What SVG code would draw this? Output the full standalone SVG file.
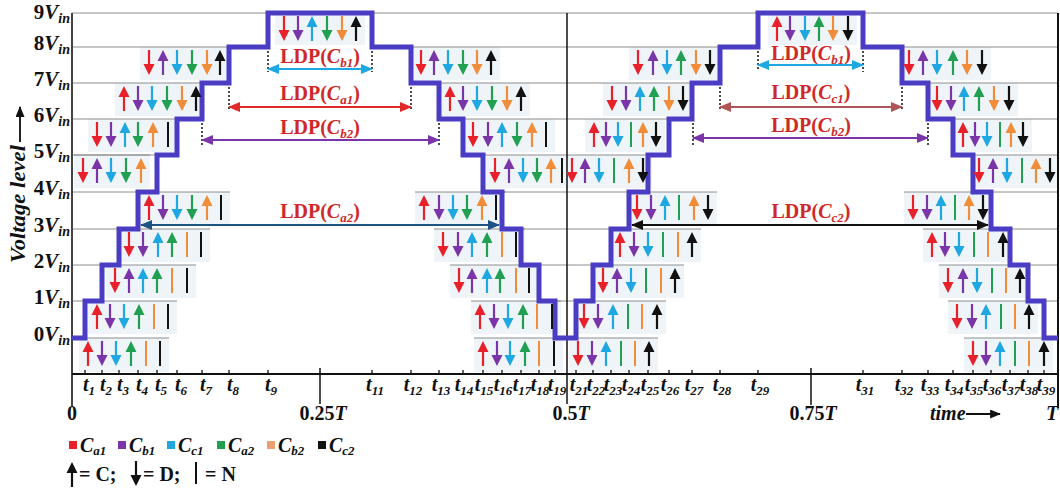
<svg xmlns="http://www.w3.org/2000/svg" xmlns:xlink="http://www.w3.org/1999/xlink" width="1060" height="490" viewBox="0 0 1060 490">
<style>
.bx{fill:#eff4f8}
.gl{fill:none;stroke:#8e8e8e;stroke-width:1}
.r{fill:#e8202a}.p{fill:#7a35a8}.c{fill:#1ea7e1}.g{fill:#20a050}.o{fill:#f08c3a}.k{fill:#111}
.stair{fill:none;stroke:#4b3cc4;stroke-width:5;stroke-linejoin:miter}
.ax{stroke:#111;fill:none}
.dot{stroke:#111;stroke-width:1.5;stroke-dasharray:2,2}
.lt{font-family:"Liberation Serif",serif;font-weight:bold;font-size:20px;fill:#d02828}
.it{font-style:italic}
.sb{font-size:13px;font-style:italic}
.yl{font-family:"Liberation Serif",serif;font-weight:bold;font-size:21px;fill:#111}
.tl{font-family:"Liberation Serif",serif;font-weight:bold;font-style:italic;font-size:20px;fill:#111}
.tsb{font-size:13px}
.bl{font-family:"Liberation Serif",serif;font-weight:bold;font-size:20px;fill:#111}
</style>
<defs>
<path id="u" d="M0,0 L5.5,11 L1.1,11 L1.1,25 L-1.1,25 L-1.1,11 L-5.5,11 Z"/>
<path id="d" d="M0,25 L5.5,14 L1.1,14 L1.1,0 L-1.1,0 L-1.1,14 L-5.5,14 Z"/>
<rect id="n" x="-1" y="0" width="2" height="25"/>
<marker id="mCy" viewBox="0 0 12 10" refX="11" refY="5" markerWidth="12" markerHeight="10" markerUnits="userSpaceOnUse" orient="auto-start-reverse"><path d="M0,0 L12,5 L0,10 Z" fill="#1ea7e1"/></marker>
<marker id="mRd" viewBox="0 0 12 10" refX="11" refY="5" markerWidth="12" markerHeight="10" markerUnits="userSpaceOnUse" orient="auto-start-reverse"><path d="M0,0 L12,5 L0,10 Z" fill="#e02a2a"/></marker>
<marker id="mBr" viewBox="0 0 12 10" refX="11" refY="5" markerWidth="12" markerHeight="10" markerUnits="userSpaceOnUse" orient="auto-start-reverse"><path d="M0,0 L12,5 L0,10 Z" fill="#b05555"/></marker>
<marker id="mPu" viewBox="0 0 12 10" refX="11" refY="5" markerWidth="12" markerHeight="10" markerUnits="userSpaceOnUse" orient="auto-start-reverse"><path d="M0,0 L12,5 L0,10 Z" fill="#7a35a8"/></marker>
<marker id="mDb" viewBox="0 0 12 10" refX="11" refY="5" markerWidth="12" markerHeight="10" markerUnits="userSpaceOnUse" orient="auto-start-reverse"><path d="M0,0 L12,5 L0,10 Z" fill="#1d5484"/></marker>
<marker id="mBk" viewBox="0 0 12 10" refX="11" refY="5" markerWidth="12" markerHeight="10" markerUnits="userSpaceOnUse" orient="auto-start-reverse"><path d="M0,0 L12,5 L0,10 Z" fill="#111"/></marker>
<marker id="mAx" viewBox="0 0 12 10" refX="11" refY="5" markerWidth="11" markerHeight="9" markerUnits="userSpaceOnUse" orient="auto"><path d="M0,0 L12,5 L0,10 Z" fill="#111"/></marker>
</defs>

<!-- group boxes -->
<g id="boxes">
<rect class="bx" x="79" y="338" width="90" height="34"/>
<rect class="bx" x="88" y="301" width="89" height="33"/>
<rect class="bx" x="106" y="265" width="90" height="33"/>
<rect class="bx" x="120" y="229" width="90" height="33"/>
<rect class="bx" x="140" y="192" width="90" height="32"/>
<rect class="bx" x="74" y="155" width="76" height="33"/>
<rect class="bx" x="88" y="119" width="89" height="33"/>
<rect class="bx" x="115" y="83" width="90" height="33"/>
<rect class="bx" x="140" y="47" width="89" height="33"/>
<rect class="bx" x="275" y="15" width="90" height="30"/>
<rect class="bx" x="412" y="47" width="88" height="33"/>
<rect class="bx" x="441" y="83" width="89" height="33"/>
<rect class="bx" x="464" y="119" width="91" height="33"/>
<rect class="bx" x="486" y="155" width="80" height="33"/>
<rect class="bx" x="415" y="192" width="85" height="32"/>
<rect class="bx" x="434" y="229" width="91" height="33"/>
<rect class="bx" x="450" y="265" width="88" height="33"/>
<rect class="bx" x="471" y="301" width="90" height="33"/>
<rect class="bx" x="474" y="338" width="89" height="34"/>
<rect class="bx" x="569" y="338" width="89" height="34"/>
<rect class="bx" x="575" y="301" width="91" height="33"/>
<rect class="bx" x="594" y="265" width="90" height="33"/>
<rect class="bx" x="611" y="229" width="90" height="33"/>
<rect class="bx" x="628" y="192" width="89" height="32"/>
<rect class="bx" x="563" y="155" width="89" height="33"/>
<rect class="bx" x="585" y="119" width="80" height="33"/>
<rect class="bx" x="603" y="83" width="89" height="33"/>
<rect class="bx" x="629" y="47" width="90" height="33"/>
<rect class="bx" x="768" y="15" width="89" height="30"/>
<rect class="bx" x="900" y="47" width="91" height="33"/>
<rect class="bx" x="928" y="83" width="90" height="33"/>
<rect class="bx" x="954" y="119" width="78" height="33"/>
<rect class="bx" x="970" y="155" width="88" height="33"/>
<rect class="bx" x="904" y="192" width="84" height="32"/>
<rect class="bx" x="923" y="229" width="89" height="33"/>
<rect class="bx" x="939" y="265" width="90" height="33"/>
<rect class="bx" x="948" y="301" width="90" height="33"/>
<rect class="bx" x="964" y="338" width="89" height="34"/>
</g>

<!-- grid lines -->
<g id="grid">
<path class="gl" d="M72,13H1058 M72,47H229 M72,83H202 M72,119H177 M72,155H157 M72,192H138 M72,229H119 M72,265H102 M72,301H85
M372,47H567 M411,83H567 M439,119H567 M463,155H567 M483,192H567 M502,229H567 M521,265H567 M539,301H567
M567,47H720 M567,83H692 M567,119H669 M567,155H648 M567,192H629 M567,229H611 M567,265H593 M567,301H576
M863,47H1058 M902,83H1058 M928,119H1058 M953,155H1058 M973,192H1058 M991,229H1058 M1010,265H1058 M1028,301H1058
M79,338H169 M88,301H177 M106,265H196 M120,229H210 M140,192H230 M74,155H150
M415,192H506 M434,229H525 M450,265H538 M471,301H561 M474,338H563
M569,338H658 M575,301H666 M594,265H684 M611,229H701 M628,192H717
M904,192H992 M923,229H1012 M939,265H1029 M948,301H1038 M964,338H1053"/>
</g>

<!-- axes -->
<g id="axes">
<line class="ax" x1="72" y1="13" x2="72" y2="406" stroke-width="2" style="stroke:#444"/>
<line class="ax" x1="72" y1="374" x2="1058" y2="374" stroke-width="2"/>
<line class="ax" x1="567" y1="13" x2="567" y2="404" stroke-width="1.5"/>
<line class="ax" x1="1058" y1="13" x2="1058" y2="408" stroke-width="2"/>
<line class="ax" x1="320" y1="368" x2="320" y2="404" stroke-width="1.5"/>
<line class="ax" x1="811" y1="368" x2="811" y2="405" stroke-width="1.5"/>
<path class="ax" stroke-width="1.3" d="M85,370V374 M102,370V374 M119,370V374 M138,370V374 M157,370V374 M177,370V374 M202,370V374 M229,370V374 M268,370V374 M372,370V374 M411,370V374 M439,370V374 M463,370V374 M483,370V374 M502,370V374 M521,370V374 M539,370V374 M555,370V374 M576,370V374 M593,370V374 M611,370V374 M629,370V374 M648,370V374 M669,370V374 M692,370V374 M720,370V374 M758,370V374 M863,370V374 M902,370V374 M928,370V374 M953,370V374 M973,370V374 M991,370V374 M1010,370V374 M1028,370V374 M1044,370V374"/>
</g>

<!-- LDP connectors -->
<g id="connectors">
<path class="dot" d="M268,47V72 M372,47V72 M229,83V110 M411,83V110 M202,119V145 M439,119V145 M758,47V70 M863,47V72 M720,83V110 M902,83V110 M693,119V145 M928,119V145"/>
<line x1="268" y1="69" x2="372" y2="69" stroke="#1ea7e1" stroke-width="2.2" marker-start="url(#mCy)" marker-end="url(#mCy)"/>
<line x1="229" y1="107" x2="411" y2="107" stroke="#e02a2a" stroke-width="2.2" marker-start="url(#mRd)" marker-end="url(#mRd)"/>
<line x1="202" y1="140" x2="439" y2="140" stroke="#7a35a8" stroke-width="2" marker-start="url(#mPu)" marker-end="url(#mPu)"/>
<line x1="141" y1="225" x2="499" y2="225" stroke="#1d5484" stroke-width="2" marker-start="url(#mDb)" marker-end="url(#mDb)"/>
<line x1="758" y1="65" x2="863" y2="65" stroke="#1ea7e1" stroke-width="2.2" marker-start="url(#mCy)" marker-end="url(#mCy)"/>
<line x1="720" y1="107" x2="902" y2="107" stroke="#b05555" stroke-width="2.2" marker-start="url(#mBr)" marker-end="url(#mBr)"/>
<line x1="693" y1="138" x2="928" y2="138" stroke="#7a35a8" stroke-width="2" marker-start="url(#mPu)" marker-end="url(#mPu)"/>
<line x1="632" y1="225" x2="988" y2="225" stroke="#111" stroke-width="2" marker-start="url(#mBk)" marker-end="url(#mBk)"/>
</g>

<!-- staircase -->
<g id="staircase">
<path class="stair" d="M72,338 H85 V301 H102 V265 H119 V229 H138 V192 H157 V155 H177 V119 H202 V83 H229 V47 H268 V13 H372 V47 H411 V83 H439 V119 H463 V155 H483 V192 H502 V229 H521 V265 H539 V301 H555 V338 H576 V301 H593 V265 H611 V229 H629 V192 H648 V155 H669 V119 H692 V83 H720 V47 H758 V13 H863 V47 H902 V83 H928 V119 H953 V155 H973 V192 H991 V229 H1010 V265 H1028 V301 H1044 V338 H1058"/>
</g>

<!-- LDP labels -->
<g id="ldp-labels">
<text class="lt" x="320" y="63" text-anchor="middle">LDP(<tspan class="it">C</tspan><tspan class="sb" dy="4">b1</tspan><tspan dy="-4">)</tspan></text>
<text class="lt" x="320" y="100" text-anchor="middle">LDP(<tspan class="it">C</tspan><tspan class="sb" dy="4">a1</tspan><tspan dy="-4">)</tspan></text>
<text class="lt" x="320" y="134" text-anchor="middle">LDP(<tspan class="it">C</tspan><tspan class="sb" dy="4">b2</tspan><tspan dy="-4">)</tspan></text>
<text class="lt" x="320" y="218" text-anchor="middle">LDP(<tspan class="it">C</tspan><tspan class="sb" dy="4">a2</tspan><tspan dy="-4">)</tspan></text>
<text class="lt" x="811" y="60" text-anchor="middle">LDP(<tspan class="it">C</tspan><tspan class="sb" dy="4">b1</tspan><tspan dy="-4">)</tspan></text>
<text class="lt" x="811" y="99" text-anchor="middle">LDP(<tspan class="it">C</tspan><tspan class="sb" dy="4">c1</tspan><tspan dy="-4">)</tspan></text>
<text class="lt" x="811" y="132" text-anchor="middle">LDP(<tspan class="it">C</tspan><tspan class="sb" dy="4">b2</tspan><tspan dy="-4">)</tspan></text>
<text class="lt" x="811" y="218" text-anchor="middle">LDP(<tspan class="it">C</tspan><tspan class="sb" dy="4">c2</tspan><tspan dy="-4">)</tspan></text>
</g>

<!-- state glyph groups: first half rising -->
<g id="r0"><use href="#u" x="88" y="341" class="r"/><use href="#d" x="102" y="341" class="p"/><use href="#d" x="116" y="341" class="c"/><use href="#u" x="131" y="341" class="g"/><use href="#n" x="146" y="341" class="o"/><use href="#n" x="160" y="341" class="k"/></g>
<g id="r1"><use href="#u" x="97" y="304" class="r"/><use href="#d" x="110" y="304" class="p"/><use href="#d" x="124" y="304" class="c"/><use href="#u" x="139" y="304" class="g"/><use href="#n" x="154" y="304" class="o"/><use href="#n" x="168" y="304" class="k"/></g>
<g id="r2"><use href="#d" x="115" y="268" class="r"/><use href="#u" x="129" y="268" class="p"/><use href="#u" x="143" y="268" class="c"/><use href="#u" x="157" y="268" class="g"/><use href="#n" x="172" y="268" class="o"/><use href="#n" x="187" y="268" class="k"/></g>
<g id="r3"><use href="#d" x="129" y="232" class="r"/><use href="#d" x="143" y="232" class="p"/><use href="#u" x="158" y="232" class="c"/><use href="#u" x="172" y="232" class="g"/><use href="#n" x="187" y="232" class="o"/><use href="#n" x="201" y="232" class="k"/></g>
<g id="r4"><use href="#u" x="149" y="195" class="r"/><use href="#d" x="163" y="195" class="p"/><use href="#d" x="177" y="195" class="c"/><use href="#d" x="192" y="195" class="g"/><use href="#u" x="207" y="195" class="o"/><use href="#n" x="221" y="195" class="k"/></g>
<g id="r5"><use href="#d" x="83" y="158" class="r"/><use href="#u" x="97" y="158" class="p"/><use href="#d" x="111" y="158" class="c"/><use href="#d" x="126" y="158" class="g"/><use href="#u" x="141" y="158" class="o"/></g>
<g id="r6"><use href="#d" x="97" y="122" class="r"/><use href="#d" x="111" y="122" class="p"/><use href="#u" x="125" y="122" class="c"/><use href="#d" x="138" y="122" class="g"/><use href="#u" x="153" y="122" class="o"/><use href="#n" x="168" y="122" class="k"/></g>
<g id="r7"><use href="#u" x="124" y="86" class="r"/><use href="#d" x="138" y="86" class="p"/><use href="#d" x="152" y="86" class="c"/><use href="#d" x="167" y="86" class="g"/><use href="#d" x="182" y="86" class="o"/><use href="#u" x="196" y="86" class="k"/></g>
<g id="r8"><use href="#d" x="149" y="50" class="r"/><use href="#u" x="163" y="50" class="p"/><use href="#d" x="177" y="50" class="c"/><use href="#d" x="192" y="50" class="g"/><use href="#d" x="207" y="50" class="o"/><use href="#u" x="220" y="50" class="k"/></g>
<g id="r9"><use href="#d" x="284" y="16" class="r"/><use href="#d" x="298" y="16" class="p"/><use href="#u" x="312" y="16" class="c"/><use href="#d" x="327" y="16" class="g"/><use href="#d" x="342" y="16" class="o"/><use href="#u" x="356" y="16" class="k"/></g>
<!-- first half falling -->
<g id="f8"><use href="#d" x="421" y="50" class="r"/><use href="#u" x="434" y="50" class="p"/><use href="#d" x="448" y="50" class="c"/><use href="#d" x="463" y="50" class="g"/><use href="#d" x="477" y="50" class="o"/><use href="#u" x="491" y="50" class="k"/></g>
<g id="f7"><use href="#u" x="450" y="86" class="r"/><use href="#d" x="463" y="86" class="p"/><use href="#d" x="477" y="86" class="c"/><use href="#d" x="492" y="86" class="g"/><use href="#d" x="507" y="86" class="o"/><use href="#u" x="521" y="86" class="k"/></g>
<g id="f6"><use href="#d" x="473" y="122" class="r"/><use href="#d" x="488" y="122" class="p"/><use href="#u" x="502" y="122" class="c"/><use href="#d" x="517" y="122" class="g"/><use href="#u" x="532" y="122" class="o"/><use href="#n" x="546" y="122" class="k"/></g>
<g id="f5"><use href="#d" x="495" y="158" class="r"/><use href="#u" x="509" y="158" class="p"/><use href="#d" x="523" y="158" class="c"/><use href="#d" x="537" y="158" class="g"/><use href="#u" x="551" y="158" class="o"/><use href="#n" x="562" y="158" class="k"/></g>
<g id="f4"><use href="#u" x="424" y="195" class="r"/><use href="#d" x="439" y="195" class="p"/><use href="#d" x="453" y="195" class="c"/><use href="#d" x="467" y="195" class="g"/><use href="#u" x="482" y="195" class="o"/><use href="#n" x="496" y="195" class="k"/></g>
<g id="f3"><use href="#d" x="443" y="232" class="r"/><use href="#d" x="458" y="232" class="p"/><use href="#u" x="472" y="232" class="c"/><use href="#u" x="487" y="232" class="g"/><use href="#n" x="502" y="232" class="o"/><use href="#n" x="516" y="232" class="k"/></g>
<g id="f2"><use href="#d" x="459" y="268" class="r"/><use href="#u" x="472" y="268" class="p"/><use href="#u" x="487" y="268" class="c"/><use href="#u" x="500" y="268" class="g"/><use href="#n" x="516" y="268" class="o"/><use href="#n" x="529" y="268" class="k"/></g>
<g id="f1"><use href="#u" x="480" y="304" class="r"/><use href="#d" x="494" y="304" class="p"/><use href="#d" x="508" y="304" class="c"/><use href="#u" x="523" y="304" class="g"/><use href="#n" x="537" y="304" class="o"/><use href="#n" x="552" y="304" class="k"/></g>
<g id="f0"><use href="#u" x="483" y="341" class="r"/><use href="#d" x="497" y="341" class="p"/><use href="#d" x="510" y="341" class="c"/><use href="#u" x="525" y="341" class="g"/><use href="#n" x="539" y="341" class="o"/><use href="#n" x="554" y="341" class="k"/></g>
<!-- second half rising -->
<g id="s0"><use href="#d" x="578" y="341" class="r"/><use href="#d" x="592" y="341" class="p"/><use href="#u" x="606" y="341" class="c"/><use href="#n" x="621" y="341" class="g"/><use href="#n" x="635" y="341" class="o"/><use href="#u" x="649" y="341" class="k"/></g>
<g id="s1"><use href="#d" x="584" y="304" class="r"/><use href="#d" x="598" y="304" class="p"/><use href="#u" x="613" y="304" class="c"/><use href="#n" x="628" y="304" class="g"/><use href="#n" x="642" y="304" class="o"/><use href="#u" x="657" y="304" class="k"/></g>
<g id="s2"><use href="#d" x="603" y="268" class="r"/><use href="#u" x="617" y="268" class="p"/><use href="#d" x="631" y="268" class="c"/><use href="#n" x="646" y="268" class="g"/><use href="#n" x="661" y="268" class="o"/><use href="#u" x="675" y="268" class="k"/></g>
<g id="s3"><use href="#u" x="620" y="232" class="r"/><use href="#d" x="634" y="232" class="p"/><use href="#d" x="648" y="232" class="c"/><use href="#n" x="663" y="232" class="g"/><use href="#n" x="678" y="232" class="o"/><use href="#u" x="692" y="232" class="k"/></g>
<g id="s4"><use href="#d" x="637" y="195" class="r"/><use href="#d" x="651" y="195" class="p"/><use href="#u" x="665" y="195" class="c"/><use href="#n" x="679" y="195" class="g"/><use href="#u" x="694" y="195" class="o"/><use href="#d" x="708" y="195" class="k"/></g>
<g id="s5"><use href="#d" x="572" y="158" class="r"/><use href="#u" x="585" y="158" class="p"/><use href="#d" x="599" y="158" class="c"/><use href="#n" x="614" y="158" class="g"/><use href="#u" x="629" y="158" class="o"/><use href="#d" x="643" y="158" class="k"/></g>
<g id="s6"><use href="#u" x="594" y="122" class="r"/><use href="#d" x="606" y="122" class="p"/><use href="#d" x="618" y="122" class="c"/><use href="#n" x="631" y="122" class="g"/><use href="#u" x="643" y="122" class="o"/><use href="#d" x="656" y="122" class="k"/></g>
<g id="s7"><use href="#d" x="612" y="86" class="r"/><use href="#d" x="626" y="86" class="p"/><use href="#u" x="640" y="86" class="c"/><use href="#u" x="654" y="86" class="g"/><use href="#d" x="669" y="86" class="o"/><use href="#d" x="683" y="86" class="k"/></g>
<g id="s8"><use href="#d" x="638" y="50" class="r"/><use href="#u" x="653" y="50" class="p"/><use href="#d" x="667" y="50" class="c"/><use href="#u" x="681" y="50" class="g"/><use href="#d" x="696" y="50" class="o"/><use href="#d" x="710" y="50" class="k"/></g>
<g id="s9"><use href="#u" x="777" y="16" class="r"/><use href="#d" x="790" y="16" class="p"/><use href="#d" x="805" y="16" class="c"/><use href="#u" x="819" y="16" class="g"/><use href="#d" x="833" y="16" class="o"/><use href="#d" x="848" y="16" class="k"/></g>
<!-- second half falling -->
<g id="h8"><use href="#d" x="909" y="50" class="r"/><use href="#u" x="923" y="50" class="p"/><use href="#d" x="937" y="50" class="c"/><use href="#u" x="953" y="50" class="g"/><use href="#d" x="967" y="50" class="o"/><use href="#d" x="982" y="50" class="k"/></g>
<g id="h7"><use href="#d" x="937" y="86" class="r"/><use href="#d" x="951" y="86" class="p"/><use href="#u" x="964" y="86" class="c"/><use href="#u" x="979" y="86" class="g"/><use href="#d" x="994" y="86" class="o"/><use href="#d" x="1009" y="86" class="k"/></g>
<g id="h6"><use href="#u" x="963" y="122" class="r"/><use href="#d" x="975" y="122" class="p"/><use href="#d" x="987" y="122" class="c"/><use href="#n" x="1000" y="122" class="g"/><use href="#u" x="1011" y="122" class="o"/><use href="#d" x="1023" y="122" class="k"/></g>
<g id="h5"><use href="#d" x="979" y="158" class="r"/><use href="#u" x="993" y="158" class="p"/><use href="#d" x="1007" y="158" class="c"/><use href="#n" x="1022" y="158" class="g"/><use href="#u" x="1036" y="158" class="o"/><use href="#d" x="1050" y="158" class="k"/></g>
<g id="h4"><use href="#d" x="913" y="195" class="r"/><use href="#d" x="927" y="195" class="p"/><use href="#u" x="941" y="195" class="c"/><use href="#n" x="955" y="195" class="g"/><use href="#u" x="969" y="195" class="o"/><use href="#d" x="983" y="195" class="k"/></g>
<g id="h3"><use href="#u" x="932" y="232" class="r"/><use href="#d" x="945" y="232" class="p"/><use href="#d" x="959" y="232" class="c"/><use href="#n" x="974" y="232" class="g"/><use href="#n" x="988" y="232" class="o"/><use href="#u" x="1003" y="232" class="k"/></g>
<g id="h2"><use href="#d" x="948" y="268" class="r"/><use href="#u" x="963" y="268" class="p"/><use href="#d" x="977" y="268" class="c"/><use href="#n" x="992" y="268" class="g"/><use href="#n" x="1006" y="268" class="o"/><use href="#u" x="1020" y="268" class="k"/></g>
<g id="h1"><use href="#d" x="957" y="304" class="r"/><use href="#d" x="972" y="304" class="p"/><use href="#u" x="986" y="304" class="c"/><use href="#n" x="1001" y="304" class="g"/><use href="#n" x="1015" y="304" class="o"/><use href="#u" x="1029" y="304" class="k"/></g>
<g id="h0"><use href="#d" x="973" y="341" class="r"/><use href="#d" x="986" y="341" class="p"/><use href="#u" x="1000" y="341" class="c"/><use href="#n" x="1015" y="341" class="g"/><use href="#n" x="1029" y="341" class="o"/><use href="#u" x="1044" y="341" class="k"/></g>

<!-- y labels -->
<g id="ylabels" class="yl" text-anchor="end">
<text x="70" y="19">9<tspan class="it">V</tspan><tspan class="it" font-size="14" dy="4">in</tspan></text>
<text x="70" y="50">8<tspan class="it">V</tspan><tspan class="it" font-size="14" dy="4">in</tspan></text>
<text x="70" y="86">7<tspan class="it">V</tspan><tspan class="it" font-size="14" dy="4">in</tspan></text>
<text x="70" y="122">6<tspan class="it">V</tspan><tspan class="it" font-size="14" dy="4">in</tspan></text>
<text x="70" y="158">5<tspan class="it">V</tspan><tspan class="it" font-size="14" dy="4">in</tspan></text>
<text x="70" y="195">4<tspan class="it">V</tspan><tspan class="it" font-size="14" dy="4">in</tspan></text>
<text x="70" y="232">3<tspan class="it">V</tspan><tspan class="it" font-size="14" dy="4">in</tspan></text>
<text x="70" y="268">2<tspan class="it">V</tspan><tspan class="it" font-size="14" dy="4">in</tspan></text>
<text x="70" y="304">1<tspan class="it">V</tspan><tspan class="it" font-size="14" dy="4">in</tspan></text>
<text x="70" y="341">0<tspan class="it">V</tspan><tspan class="it" font-size="14" dy="4">in</tspan></text>
</g>
<g id="yaxis-title">
<text class="yl it" x="25" y="204" text-anchor="middle" transform="rotate(-90 25 204)" textLength="118" lengthAdjust="spacingAndGlyphs" font-size="20">Voltage level</text>
<line x1="20" y1="142" x2="20" y2="107" stroke="#222" stroke-width="2" marker-end="url(#mAx)"/>
</g>

<!-- time labels -->
<g id="tlabels" class="tl" text-anchor="middle">
<text x="89" y="391">t<tspan class="tsb" dy="4">1</tspan></text>
<text x="106" y="391">t<tspan class="tsb" dy="4">2</tspan></text>
<text x="123" y="391">t<tspan class="tsb" dy="4">3</tspan></text>
<text x="142" y="391">t<tspan class="tsb" dy="4">4</tspan></text>
<text x="161" y="391">t<tspan class="tsb" dy="4">5</tspan></text>
<text x="181" y="391">t<tspan class="tsb" dy="4">6</tspan></text>
<text x="206" y="391">t<tspan class="tsb" dy="4">7</tspan></text>
<text x="233" y="391">t<tspan class="tsb" dy="4">8</tspan></text>
<text x="271" y="391">t<tspan class="tsb" dy="4">9</tspan></text>
<text x="375" y="391">t<tspan class="tsb" dy="4">11</tspan></text>
<text x="413" y="391">t<tspan class="tsb" dy="4">12</tspan></text>
<text x="441" y="391">t<tspan class="tsb" dy="4">13</tspan></text>
<text x="464" y="391">t<tspan class="tsb" dy="4">14</tspan></text>
<text x="484" y="391">t<tspan class="tsb" dy="4">15</tspan></text>
<text x="503" y="391">t<tspan class="tsb" dy="4">16</tspan></text>
<text x="522" y="391">t<tspan class="tsb" dy="4">17</tspan></text>
<text x="540" y="391">t<tspan class="tsb" dy="4">18</tspan></text>
<text x="557" y="391">t<tspan class="tsb" dy="4">19</tspan></text>
<text x="579" y="391">t<tspan class="tsb" dy="4">21</tspan></text>
<text x="596" y="391">t<tspan class="tsb" dy="4">22</tspan></text>
<text x="613" y="391">t<tspan class="tsb" dy="4">23</tspan></text>
<text x="631" y="391">t<tspan class="tsb" dy="4">24</tspan></text>
<text x="650" y="391">t<tspan class="tsb" dy="4">25</tspan></text>
<text x="670" y="391">t<tspan class="tsb" dy="4">26</tspan></text>
<text x="694" y="391">t<tspan class="tsb" dy="4">27</tspan></text>
<text x="722" y="391">t<tspan class="tsb" dy="4">28</tspan></text>
<text x="760" y="391">t<tspan class="tsb" dy="4">29</tspan></text>
<text x="865" y="391">t<tspan class="tsb" dy="4">31</tspan></text>
<text x="904" y="391">t<tspan class="tsb" dy="4">32</tspan></text>
<text x="930" y="391">t<tspan class="tsb" dy="4">33</tspan></text>
<text x="954" y="391">t<tspan class="tsb" dy="4">34</tspan></text>
<text x="974" y="391">t<tspan class="tsb" dy="4">35</tspan></text>
<text x="992" y="391">t<tspan class="tsb" dy="4">36</tspan></text>
<text x="1011" y="391">t<tspan class="tsb" dy="4">37</tspan></text>
<text x="1029" y="391">t<tspan class="tsb" dy="4">38</tspan></text>
<text x="1046" y="391">t<tspan class="tsb" dy="4">39</tspan></text>
</g>
<g id="period-labels" class="bl">
<text x="72" y="420" text-anchor="middle">0</text>
<text x="323" y="420" text-anchor="middle">0.25<tspan class="it">T</tspan></text>
<text x="571" y="420" text-anchor="middle">0.5<tspan class="it">T</tspan></text>
<text x="813" y="420" text-anchor="middle">0.75<tspan class="it">T</tspan></text>
<text x="1046" y="420" class="it">T</text>
<text x="930" y="420" class="it">time</text>
<line x1="966" y1="414" x2="1000" y2="414" stroke="#111" stroke-width="2" marker-end="url(#mAx)"/>
</g>

<!-- legend -->
<g id="legend">
<rect x="69" y="441" width="8" height="8" class="r"/>
<rect x="118" y="441" width="8" height="8" class="p"/>
<rect x="167" y="441" width="8" height="8" class="c"/>
<rect x="217" y="441" width="8" height="8" class="g"/>
<rect x="267" y="441" width="8" height="8" style="fill:#eca070"/>
<rect x="318" y="441" width="8" height="8" class="k"/>
<g class="bl it">
<text x="80" y="452">C<tspan font-size="13" dy="3">a1</tspan></text>
<text x="129" y="452">C<tspan font-size="13" dy="3">b1</tspan></text>
<text x="178" y="452">C<tspan font-size="13" dy="3">c1</tspan></text>
<text x="228" y="452">C<tspan font-size="13" dy="3">a2</tspan></text>
<text x="278" y="452">C<tspan font-size="13" dy="3">b2</tspan></text>
<text x="329" y="452">C<tspan font-size="13" dy="3">c2</tspan></text>
</g>
<use href="#u" x="72" y="462" class="k"/>
<use href="#d" x="136" y="461" class="k"/>
<rect x="195" y="462" width="2" height="22" class="k"/>
<text class="bl" x="79" y="481">= C;</text>
<text class="bl" x="143" y="481">= D;</text>
<text class="bl" x="205" y="481">= N</text>
</g>
</svg>
